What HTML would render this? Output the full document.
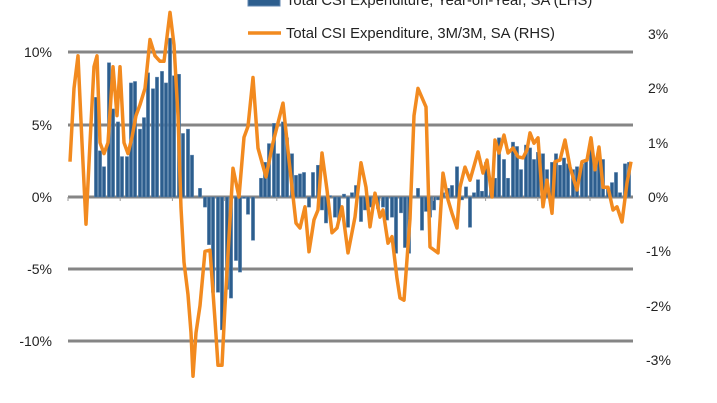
<!DOCTYPE html>
<html><head><meta charset="utf-8"><style>
html,body{margin:0;padding:0;background:#fff;width:717px;height:403px;overflow:hidden}
svg text{font-family:"Liberation Sans",sans-serif;font-size:14px;fill:#222}
svg text.lg{font-size:14.8px}
</style></head><body>
<svg id="s" width="717" height="403" xmlns="http://www.w3.org/2000/svg">
<g stroke="#858585" stroke-width="3">
<line x1="68" y1="52" x2="633" y2="52"/>
<line x1="68" y1="125" x2="633" y2="125"/>
<line x1="68" y1="197" x2="633" y2="197"/>
<line x1="68" y1="269" x2="633" y2="269"/>
<line x1="68" y1="341" x2="633" y2="341"/>
</g>
<g text-anchor="end">
<text x="52" y="57">10%</text><text x="52" y="130">5%</text><text x="52" y="202">0%</text>
<text x="52" y="274">-5%</text><text x="52" y="346">-10%</text>
</g>
<g>
<text x="648" y="39">3%</text><text x="648" y="93">2%</text><text x="648" y="148">1%</text>
<text x="648" y="202">0%</text><text x="646" y="256">-1%</text><text x="646" y="311">-2%</text><text x="646" y="365">-3%</text>
</g>
<g id="bars" fill="#2d5e8e" stroke="#5f86b0" stroke-width="0.5"></g>
<g id="ticks" stroke="#999" stroke-width="1"></g>
<polyline id="ln" fill="none" stroke="#f28a1f" stroke-width="3.5" stroke-linejoin="round"/>
<rect x="248" y="-6" width="32" height="12" fill="#2d5e8e" stroke="#5f86b0"/>
<text class="lg" x="286" y="5">Total CSI Expenditure, Year-on-Year, SA (LHS)</text>
<line x1="248" y1="33" x2="281" y2="33" stroke="#f28a1f" stroke-width="3.5"/>
<text class="lg" x="286" y="38">Total CSI Expenditure, 3M/3M, SA (RHS)</text>
</svg>
<script>
var B=[[96,6.9],[100,3.2],[104,2.1],[109,9.3],[113,6.1],[118,5.2],[122,2.8],[127,2.8],[131,7.9],[135,8.0],[140,4.7],[144,5.5],[148,8.6],[153,7.5],[157,8.3],[162,8.7],[166,7.9],[170,11],[174,8.4],[179,8.5],[183,4.4],[188,4.7],[192,2.9],[200,0.6],[205,-0.7],[209,-3.3],[213,-6.6],[218,-6.6],[222,-9.2],[227,-6.4],[231,-7.0],[236,-4.4],[240,-5.2],[244,-0.1],[248,-1.2],[253,-3.0],[261,1.3],[265,2.4],[269,3.7],[274,5.1],[278,3.0],[283,5.2],[287,4.1],[292,3.0],[296,1.5],[300,1.6],[304,1.7],[309,-0.7],[313,1.7],[318,2.2],[322,-0.9],[326,-1.8],[330,0.1],[335,-1.4],[339,-1.6],[344,0.2],[348,-2.1],[352,0.3],[356,0.8],[361,-1.7],[365,-0.9],[370,-0.7],[374,-0.4],[378,-0.8],[383,-0.7],[387,-1.6],[392,-1.4],[396,-3.9],[401,-1.1],[405,-3.5],[409,-3.9],[418,0.6],[422,-2.3],[426,-1.0],[430,-1.4],[434,-0.9],[438,-0.2],[443,0.3],[448,0.6],[452,0.8],[457,2.1],[462,-0.2],[466,0.7],[470,-2.1],[474,0.3],[478,1.2],[482,0.4],[486,2.4],[491,0.5],[495,1.3],[499,4.1],[504,2.6],[508,1.3],[513,3.8],[517,3.5],[521,1.9],[526,3.6],[530,3.4],[534,2.6],[538,3.1],[543,3.0],[547,1.9],[552,2.4],[556,3.0],[560,2.2],[564,2.7],[568,2.3],[573,1.9],[577,2.1],[582,2.3],[586,2.6],[591,3.8],[595,2.1],[599,3.2],[603,2.6],[608,0.6],[612,1.0],[616,1.7],[620,0.3],[625,2.3],[629,2.4]];
var g=document.getElementById('bars'),h='';
B.forEach(function(b){var y=197-b[1]*14.44;var t=Math.min(y,197),hh=Math.abs(y-197);h+='<rect x="'+(b[0]-1.6)+'" y="'+t+'" width="3.2" height="'+hh+'"/>';});
g.innerHTML=h;
var tk='';for(var x=68;x<=633;x+=52.2)tk+='<line x1="'+x+'" y1="197" x2="'+x+'" y2="201"/>';document.getElementById('ticks').innerHTML=tk;
var L=[[70,0.65],[74,2.0],[78,2.6],[82,1.0],[86,-0.5],[90,1.0],[94,2.4],[97,2.6],[100,1.0],[104,0.8],[108,1.0],[113,2.4],[117,1.5],[120,2.4],[124,1.0],[128,0.8],[132,1.1],[136,1.5],[140,1.7],[145,2.0],[150,2.9],[155,2.6],[160,2.5],[164,2.5],[170,3.4],[174,2.8],[178,1.5],[181,-0.2],[184,-1.2],[188,-1.8],[191,-2.5],[193,-3.3],[196,-2.5],[200,-2.0],[205,-1.0],[210,-0.98],[215,-2.27],[218,-3.1],[222,-3.1],[225,-2.0],[233,0.53],[239,0],[244,1.1],[248,1.3],[253,2.2],[258,0.9],[266,0.37],[273,1.0],[283,1.73],[289,0.68],[296,-0.48],[300,-0.57],[305,-0.18],[309,-1.01],[314,-0.42],[318,-0.24],[322,0.81],[327,0.13],[332,-0.66],[337,-0.57],[342,-0.18],[348,-1.03],[355,-0.37],[361,0.63],[366,0.18],[370,-0.55],[375,0.07],[380,-0.37],[383,-0.24],[388,-0.85],[392,-0.73],[397,-1.5],[400,-1.86],[404,-1.9],[410,-0.4],[414,1.5],[418,2.0],[426,1.66],[430,-0.92],[438,-1.03],[443,0.44],[448,-0.05],[452,-0.3],[457,-0.57],[460,0.18],[465,0.55],[470,0.31],[478,0.83],[483,0.44],[487,0.68],[492,0],[495,1.05],[499,0.81],[504,1.14],[508,0.81],[513,0.9],[518,0.74],[523,0.72],[527,0.87],[530,1.18],[534,0.99],[538,1.09],[543,-0.18],[547,0.31],[552,-0.3],[555,0.65],[560,0.68],[565,1.05],[570,0.55],[577,0.13],[582,0.65],[587,0.68],[591,1.09],[595,0.5],[599,0.92],[603,0.18],[608,0.18],[613,-0.24],[617,-0.18],[622,-0.46],[627,0.26],[631,0.65]];
document.getElementById('ln').setAttribute('points',L.map(function(p){return p[0]+','+(197-p[1]*54.3).toFixed(1)}).join(' '));
</script>
</body></html>
